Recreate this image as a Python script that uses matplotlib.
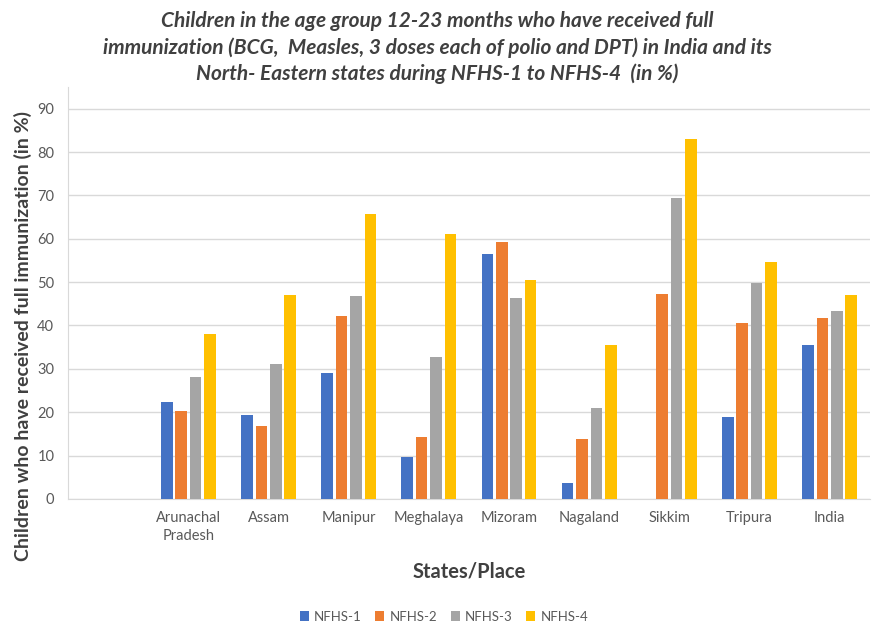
import matplotlib.pyplot as plt
import numpy as np

# category slots (first slot is empty in the original chart)
states = ["", "Arunachal\nPradesh", "Assam", "Manipur", "Meghalaya", "Mizoram",
          "Nagaland", "Sikkim", "Tripura", "India"]
series = ["NFHS-1", "NFHS-2", "NFHS-3", "NFHS-4"]
nfhs1 = [np.nan, 22.4, 19.4, 29.1, 9.7, 56.4, 3.6, np.nan, 18.8, 35.4]
nfhs2 = [np.nan, 20.3, 16.9, 42.1, 14.2, 59.3, 13.9, 47.3, 40.6, 41.8]
nfhs3 = [np.nan, 28.2, 31.2, 46.7, 32.7, 46.3, 20.9, 69.4, 49.8, 43.4]
nfhs4 = [np.nan, 38.1, 47.0, 65.8, 61.2, 50.6, 35.4, 83.0, 54.6, 47.0]
colors = ["#4472C4", "#ED7D31", "#A5A5A5", "#FFC000"]

plt.rcParams['font.family'] = ['Lato', 'DejaVu Sans']

fig = plt.figure(figsize=(8.74, 6.22), dpi=100)
ax = fig.add_axes([0.078, 0.198, 0.917, 0.662])

x = np.arange(len(states))
pitch = 0.18
for i, (vals, name) in enumerate(zip([nfhs1, nfhs2, nfhs3, nfhs4], series)):
    ax.bar(x + (i - 1.5) * pitch, vals, width=0.145, color=colors[i], label=name, zorder=3)

ax.set_xlim(-0.5, len(states) - 0.5)
ax.set_ylim(0, 95)
ax.set_yticks(range(0, 91, 10))
ax.set_xticks(x)
ax.set_xticklabels(states, fontsize=10.5, color="#595959", linespacing=1.35)
ax.tick_params(axis='y', labelsize=10.5, colors="#595959", length=0, pad=10)
ax.tick_params(axis='x', length=0, pad=9)
ax.grid(axis='y', color="#D9D9D9", linewidth=1, zorder=0)
for s in ["top", "right"]:
    ax.spines[s].set_visible(False)
ax.spines["left"].set_color("#D9D9D9")
ax.spines["bottom"].set_color("#D9D9D9")

ax.set_ylabel("Children who have received full immunization (in %)", fontsize=14,
              fontweight="bold", color="#404040")
ax.yaxis.set_label_coords(-0.045, 0.396)
ax.set_xlabel("States/Place", fontsize=14.5, fontweight="bold", color="#404040", va="center")
ax.xaxis.set_label_coords(0.5, -0.176)

fig.text(0.5, 0.982, "Children in the age group 12-23 months who have received full\n"
         "immunization (BCG,  Measles, 3 doses each of polio and DPT) in India and its\n"
         "North- Eastern states during NFHS-1 to NFHS-4  (in %)",
         ha="center", va="top", fontsize=15, fontweight="bold", fontstyle="italic",
         color="#404040", linespacing=1.35)

fig.legend(loc="lower center", bbox_to_anchor=(0.508, -0.02), ncol=4, frameon=False,
           fontsize=9.5, handlelength=0.7, handleheight=0.7, handletextpad=0.4,
           columnspacing=1.0, labelcolor="#595959")

fig.savefig("out.png", dpi=100)
